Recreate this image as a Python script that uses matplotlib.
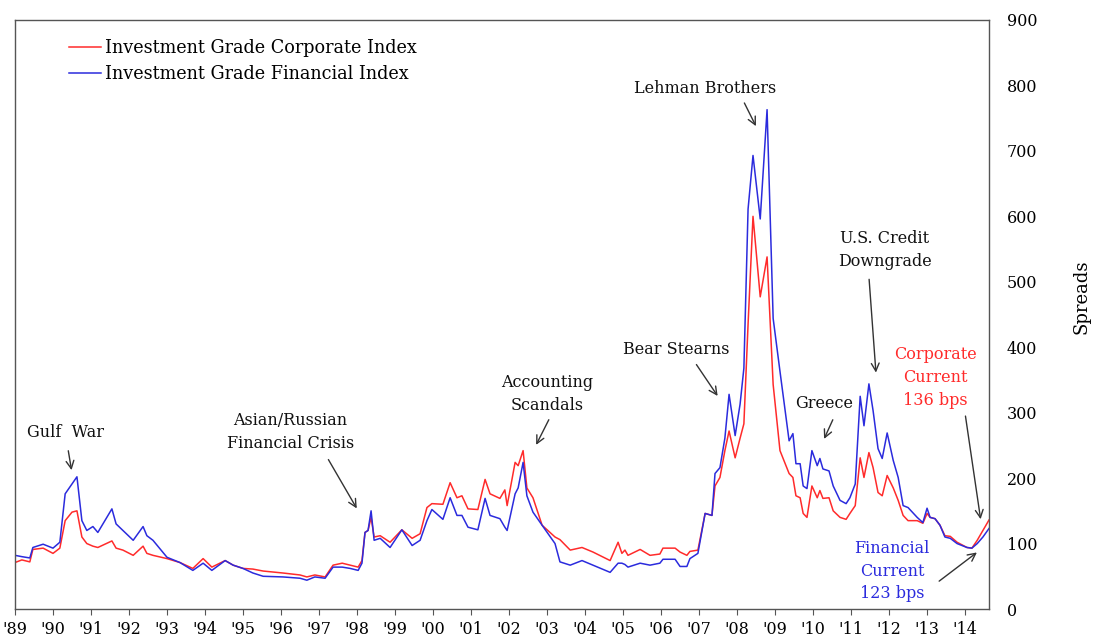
import numpy as np
import matplotlib
matplotlib.use("Agg")
import matplotlib.pyplot as plt

# spreads (bps)
years = [1989.00, 1989.18, 1989.39, 1989.47, 1989.74, 1990.00, 1990.18, 1990.32, 1990.50, 1990.63,
         1990.76, 1990.89, 1991.05, 1991.18, 1991.55, 1991.66, 1991.84, 1992.11, 1992.37, 1992.47,
         1992.63, 1993.00, 1993.34, 1993.68, 1993.95, 1994.18, 1994.53, 1994.74, 1995.00, 1995.26,
         1995.53, 1996.05, 1996.50, 1996.68, 1996.89, 1997.16, 1997.37, 1997.61, 1997.82, 1998.03,
         1998.13, 1998.21, 1998.29, 1998.37, 1998.45, 1998.61, 1998.87, 1999.18, 1999.45, 1999.66,
         1999.84, 1999.97, 2000.26, 2000.45, 2000.63, 2000.76, 2000.92, 2001.18, 2001.37, 2001.50,
         2001.76, 2001.89, 2001.95, 2002.16, 2002.24, 2002.37, 2002.47, 2002.63, 2002.87, 2003.21,
         2003.34, 2003.61, 2003.92, 2004.21, 2004.66, 2004.87, 2004.97, 2005.05, 2005.13, 2005.45,
         2005.71, 2005.97, 2006.05, 2006.37, 2006.50, 2006.68, 2006.76, 2006.97, 2007.16, 2007.34,
         2007.42, 2007.55, 2007.68, 2007.79, 2007.95, 2008.08, 2008.18, 2008.29, 2008.42, 2008.61,
         2008.79, 2008.95, 2009.13, 2009.37, 2009.47, 2009.55, 2009.66, 2009.74, 2009.84, 2009.97,
         2010.11, 2010.18, 2010.26, 2010.42, 2010.53, 2010.71, 2010.87, 2010.97, 2011.11, 2011.24,
         2011.34, 2011.47, 2011.58, 2011.71, 2011.82, 2011.95, 2012.11, 2012.24, 2012.37, 2012.50,
         2012.74, 2012.89, 2013.00, 2013.08, 2013.21, 2013.34, 2013.47, 2013.61, 2013.79, 2014.05,
         2014.18, 2014.32, 2014.47, 2014.63]

corporate = [71, 75, 72, 91, 93, 85, 93, 135, 148, 150,
             110, 100, 96, 94, 104, 93, 90, 82, 96, 85,
             82, 77, 71, 62, 77, 64, 74, 67, 62, 61,
             58, 55, 52, 49, 52, 49, 67, 70, 67, 64,
             74, 117, 120, 140, 110, 112, 102, 121, 108, 115,
             155, 161, 160, 193, 170, 173, 153, 152, 198, 176,
             169, 182, 158, 224, 219, 242, 185, 170, 128, 110,
             106, 90, 94, 87, 74, 102, 85, 90, 82, 91,
             82, 84, 93, 93, 87, 82, 88, 90, 146, 143,
             188, 201, 242, 272, 231, 261, 283, 435, 600, 477,
             538, 343, 242, 207, 201, 173, 170, 146, 140, 188,
             170, 181, 169, 170, 150, 140, 137, 146, 158, 231,
             201, 239, 216, 178, 173, 204, 185, 166, 143, 135,
             135, 131, 146, 140, 138, 128, 112, 111, 102, 94,
             93, 105, 120, 136]

financial = [82, 80, 78, 94, 99, 93, 102, 176, 191, 202,
             135, 120, 126, 117, 153, 130, 120, 105, 126, 112,
             105, 79, 71, 59, 70, 59, 74, 67, 62, 55,
             50, 49, 47, 44, 49, 47, 64, 64, 62, 59,
             70, 117, 120, 150, 105, 108, 94, 121, 97, 105,
             135, 152, 137, 170, 143, 143, 125, 121, 169, 143,
             138, 125, 120, 176, 185, 224, 173, 148, 128, 100,
             72, 67, 74, 67, 56, 70, 70, 68, 64, 70,
             67, 70, 76, 76, 65, 65, 77, 85, 146, 143,
             207, 216, 261, 328, 265, 313, 368, 611, 693, 596,
             763, 444, 363, 257, 268, 222, 222, 188, 184, 242,
             219, 230, 214, 211, 188, 166, 161, 170, 191, 325,
             280, 344, 303, 245, 230, 269, 227, 201, 158, 155,
             140, 132, 154, 140, 138, 128, 110, 108, 100, 94,
             93, 100, 110, 123]

tick_years = list(range(1989, 2015))
tick_labels = ["'" + str(y)[2:] for y in tick_years]

plt.rcParams['font.family'] = ['DejaVu Serif']

fig = plt.figure(figsize=(10.93, 6.39), dpi=100)
ax = fig.add_axes([15 / 1093, 1 - 609 / 639, (989 - 15) / 1093, (609 - 20) / 639])

red = '#ff2b2b'
blue = '#2b2bdd'
ax.plot(years, corporate, color=red, lw=1.1, label='Investment Grade Corporate Index')
ax.plot(years, financial, color=blue, lw=1.1, label='Investment Grade Financial Index')

ax.set_xlim(1989, 2014.63)
ax.set_ylim(0, 900)
ax.set_xticks(tick_years)
ax.set_xticklabels(tick_labels, fontsize=11.5)
ax.tick_params(axis='x', direction='out', length=4, color='#555555', pad=5)

ax.yaxis.tick_right()
ax.yaxis.set_label_position('right')
ax.set_yticks(range(0, 901, 100))
ax.tick_params(axis='y', length=0, labelsize=11.5, pad=13)
ax.set_ylabel('Spreads', fontsize=13)
ax.yaxis.set_label_coords(1.086, 0.53)

for s in ax.spines.values():
    s.set_color('#555555')
    s.set_linewidth(1.0)

ax.legend(loc='upper left', bbox_to_anchor=(0.048, 0.979), frameon=False, fontsize=12.7,
          handlelength=1.8, handletextpad=0.25, labelspacing=0.45, borderaxespad=0)

arrow = dict(arrowstyle='->', color='#333333', lw=1.0, mutation_scale=14)


def note(text, txy, tail, head, color='#111111'):
    ax.text(txy[0], txy[1], text, ha='center', va='center', fontsize=11.5, color=color,
            linespacing=1.45)
    ax.annotate('', xy=head, xytext=tail, arrowprops=arrow)


note('Gulf  War', (1990.32, 270), (1990.39, 246), (1990.50, 208))
note('Asian/Russian\nFinancial Crisis', (1996.24, 270), (1997.21, 232), (1998.03, 150))
note('Accounting\nScandals', (2003.0, 328), (2003.08, 293), (2002.68, 247))
note('Lehman Brothers', (2007.16, 795), (2008.16, 777), (2008.53, 734))
note('Bear Stearns', (2006.39, 397), (2006.89, 377), (2007.53, 322))
note('Greece', (2010.29, 314), (2010.55, 293), (2010.26, 256))
note('U.S. Credit\nDowngrade', (2011.89, 548), (2011.47, 508), (2011.66, 357))
note('Corporate\nCurrent\n136 bps', (2013.21, 354), (2014.0, 299), (2014.42, 133), color=red)
note('Financial\nCurrent\n123 bps', (2012.08, 58), (2013.26, 40), (2014.37, 89), color=blue)

fig.savefig('out.png', dpi=100)
